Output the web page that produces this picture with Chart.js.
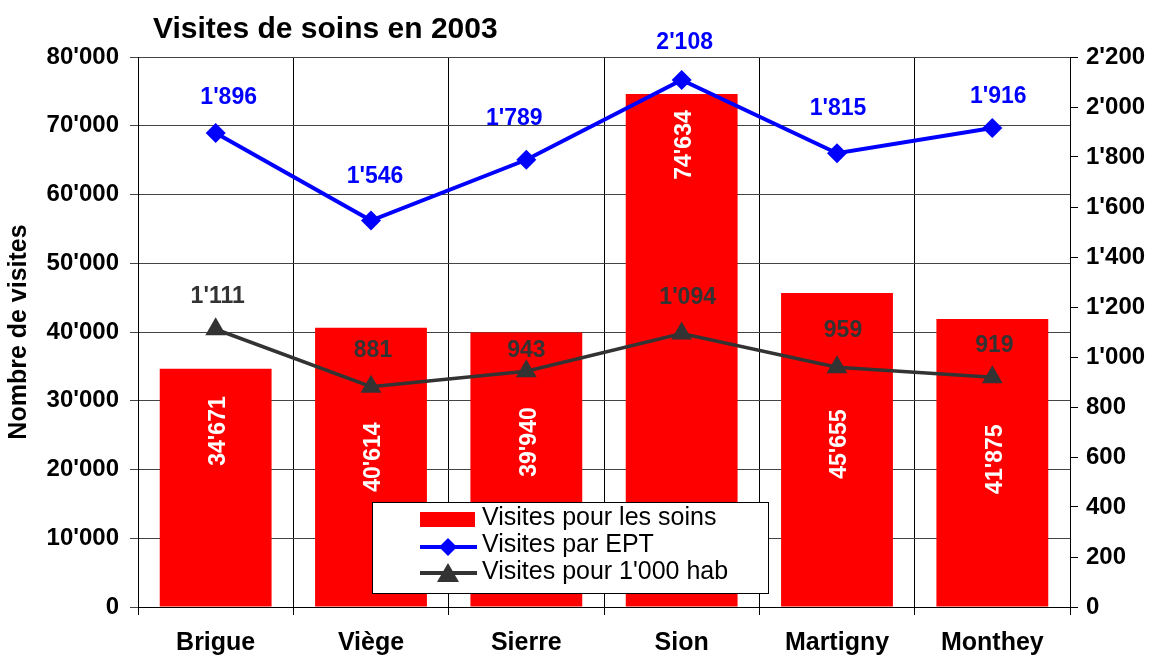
<!DOCTYPE html>
<html>
<head>
<meta charset="utf-8">
<script src="https://cdn.jsdelivr.net/npm/chart.js@4"></script>
<style>
html,body{margin:0;padding:0;background:#fff;}
#wrap{width:1152px;height:657px;}
</style>
</head>
<body>
<div id="wrap"><canvas id="c" width="1152" height="657"></canvas></div>
<script>
const categories = ['Brigue', 'Viège', 'Sierre', 'Sion', 'Martigny', 'Monthey'];
const visitesSoins = [34671, 40614, 39940, 74634, 45655, 41875];
const visitesEPT = [1896, 1546, 1789, 2108, 1815, 1916];
const visites1000 = [1111, 881, 943, 1094, 959, 919];
const leftTicks = [0, 10000, 20000, 30000, 40000, 50000, 60000, 70000, 80000];
const rightTicks = [0, 200, 400, 600, 800, 1000, 1200, 1400, 1600, 1800, 2000, 2200];

const FONT = "'Liberation Sans', Arial, sans-serif";
function fmt(n) { return String(n).replace(/\B(?=(\d{3})+(?!\d))/g, "'"); }

const labelPlugin = {
  id: 'labelPlugin',
  afterDatasetsDraw(chart, args, opts) {
    const ctx = chart.ctx;
    const yL = chart.scales.y;
    ctx.save();
    // bar labels (rotated)
    const barMeta = chart.getDatasetMeta(0);
    ctx.font = 'bold 23px ' + FONT;
    ctx.fillStyle = '#ffffff';
    ctx.textAlign = 'center';
    ctx.textBaseline = 'middle';
    barMeta.data.forEach((el, i) => {
      const cy = yL.getPixelForValue(opts.barLabelAt[i]);
      ctx.save();
      ctx.translate(el.x + 2, cy);
      ctx.rotate(-Math.PI / 2);
      ctx.fillText(fmt(visitesSoins[i]), 0, 1);
      ctx.restore();
    });
    // line labels
    const sets = [
      [1, visitesEPT, '#0000ff', opts.eptOffsets, opts.eptShift],
      [2, visites1000, '#333333', opts.habOffsets, opts.habShift]
    ];
    sets.forEach(([di, vals, col, offs, shift]) => {
      const meta = chart.getDatasetMeta(di);
      ctx.fillStyle = col;
      ctx.font = 'bold 23px ' + FONT;
      meta.data.forEach((el, i) => {
        ctx.fillText(fmt(vals[i]), el.x + shift[i], el.y - offs[i] + 1);
      });
    });
    ctx.restore();
  },
  afterDraw(chart) {
    const ctx = chart.ctx;
    ctx.save();
    // title
    ctx.font = 'bold 30px ' + FONT;
    ctx.fillStyle = '#000';
    ctx.textAlign = 'left';
    ctx.textBaseline = 'alphabetic';
    ctx.fillText('Visites de soins en 2003', 153, 38);
    // legend
    const bx = 372.5, by = 502.5, bw = 396, bh = 91;
    ctx.fillStyle = '#fff';
    ctx.fillRect(bx, by, bw, bh);
    ctx.strokeStyle = '#000';
    ctx.lineWidth = 1;
    ctx.strokeRect(bx, by, bw, bh);
    const ds = chart.data.datasets;
    // row 1 bar
    ctx.fillStyle = ds[0].backgroundColor;
    ctx.fillRect(420, 512, 55, 15);
    // row 2 blue line + diamond
    ctx.strokeStyle = ds[1].borderColor;
    ctx.lineWidth = 4;
    ctx.beginPath(); ctx.moveTo(420, 547); ctx.lineTo(477, 547); ctx.stroke();
    ctx.fillStyle = ds[1].borderColor;
    ctx.beginPath();
    ctx.moveTo(448, 538); ctx.lineTo(457, 547); ctx.lineTo(448, 556); ctx.lineTo(439, 547); ctx.closePath(); ctx.fill();
    // row 3 gray line + triangle
    ctx.strokeStyle = ds[2].borderColor;
    ctx.beginPath(); ctx.moveTo(420, 573); ctx.lineTo(477, 573); ctx.stroke();
    ctx.fillStyle = ds[2].borderColor;
    ctx.beginPath();
    ctx.moveTo(448, 563); ctx.lineTo(459, 582); ctx.lineTo(437, 582); ctx.closePath(); ctx.fill();
    // texts
    ctx.fillStyle = '#000';
    ctx.font = '25px ' + FONT;
    ctx.textAlign = 'left';
    ctx.fillText(ds[0].label, 482, 525);
    ctx.fillText(ds[1].label, 482, 552);
    ctx.fillText(ds[2].label, 482, 579);
    ctx.restore();
  }
};

new Chart(document.getElementById('c'), {
  data: {
    labels: categories,
    datasets: [
      {
        type: 'bar', label: 'Visites pour les soins', data: visitesSoins,
        backgroundColor: '#ff0000', borderWidth: 0, yAxisID: 'y', order: 3,
        barPercentage: 0.72, categoryPercentage: 1
      },
      {
        type: 'line', label: 'Visites par EPT', data: visitesEPT,
        borderColor: '#0000ff', backgroundColor: '#0000ff', borderWidth: 4,
        pointStyle: 'rectRot', pointRadius: 10, pointBorderWidth: 0,
        yAxisID: 'y1', order: 1, tension: 0
      },
      {
        type: 'line', label: "Visites pour 1'000 hab", data: visites1000,
        borderColor: '#333333', backgroundColor: '#333333', borderWidth: 3.5,
        pointStyle: 'triangle', pointRadius: 12, pointBorderWidth: 0,
        yAxisID: 'y1', order: 2, tension: 0
      }
    ]
  },
  options: {
    responsive: false,
    animation: false,
    devicePixelRatio: 1,
    layout: { padding: { top: 57, left: 0, right: 0, bottom: 0 } },
    plugins: {
      legend: { display: false },
      title: { display: false },
      tooltip: { enabled: false },
      labelPlugin: {
        barLabelAt: [25600, 21800, 24000, 67200, 23700, 21500],
        eptOffsets: [36, 45, 42, 38, 46, 32],
        eptShift: [13, 4, -12, 3, 1, 6],
        habOffsets: [34, 37, 22, 37, 38, 33],
        habShift: [2, 2, 0, 6, 6, 2]
      }
    },
    scales: {
      x: {
        type: 'category',
        offset: true,
        grid: { offset: true, color: '#000', lineWidth: 1, tickLength: 8, drawOnChartArea: true },
        border: { color: '#000', width: 1 },
        ticks: { color: '#000', font: { family: FONT, size: 25, weight: 'bold' }, padding: 13, maxRotation: 0 },
        afterFit: s => { s.height = 50; }
      },
      y: {
        type: 'linear', position: 'left', min: 0, max: 80000,
        afterBuildTicks: s => { s.ticks = leftTicks.map(v => ({ value: v })); },
        grid: { color: '#444', lineWidth: 1, tickLength: 8 },
        border: { color: '#000', width: 1 },
        ticks: { color: '#000', font: { family: FONT, size: 24, weight: 'bold' }, padding: 11, callback: v => fmt(v) },
        title: { display: true, text: 'Nombre de visites', color: '#000', font: { family: FONT, size: 25, weight: 'bold' }, padding: { top: 4, bottom: 0 } },
        afterFit: s => { s.width = 138; }
      },
      y1: {
        type: 'linear', position: 'right', min: 0, max: 2200,
        afterBuildTicks: s => { s.ticks = rightTicks.map(v => ({ value: v })); },
        grid: { drawOnChartArea: false, color: '#000', tickLength: 8 },
        border: { color: '#000', width: 1 },
        ticks: { color: '#000', font: { family: FONT, size: 24, weight: 'bold' }, padding: 8, callback: v => fmt(v) },
        afterFit: s => { s.width = 82; }
      }
    }
  },
  plugins: [labelPlugin]
});
</script>
</body>
</html>
